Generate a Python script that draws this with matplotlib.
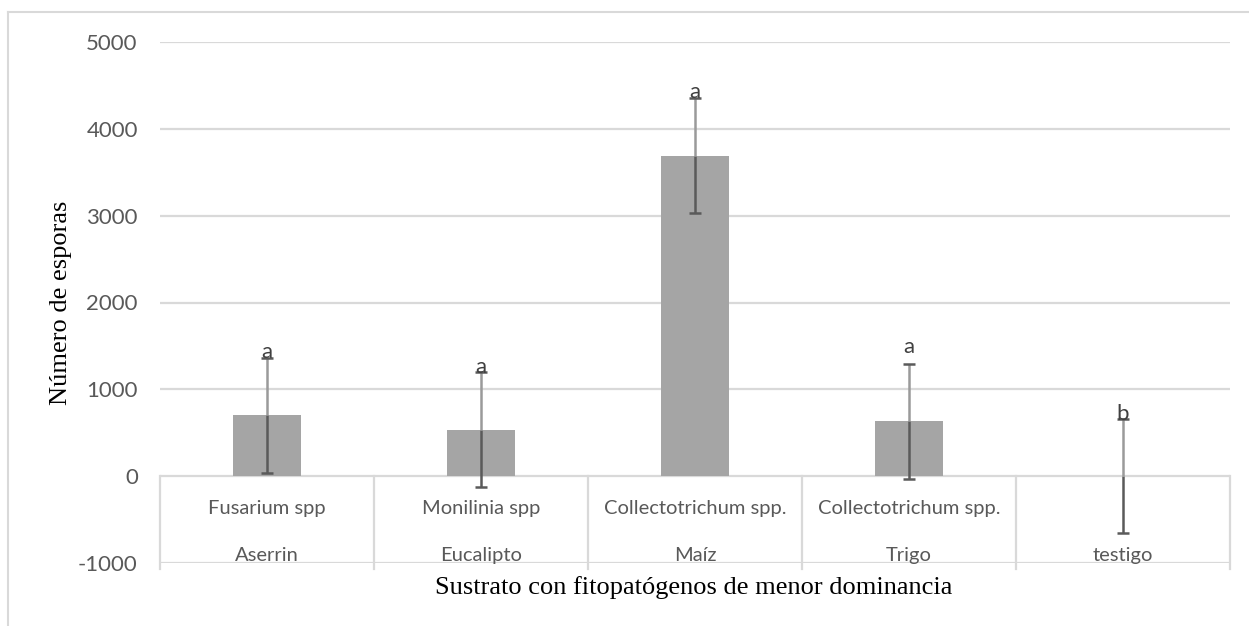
import matplotlib
matplotlib.use("Agg")
import matplotlib.pyplot as plt
import numpy as np
from matplotlib.lines import Line2D

# spore counts per substrate, with error and significance letters
sustratos = ["Aserrin", "Eucalipto", "Maíz", "Trigo", "testigo"]
patogenos = ["Fusarium spp", "Monilinia spp", "Collectotrichum spp.",
             "Collectotrichum spp.", ""]
esporas = [700, 535, 3690, 630, 0]
error = [660, 660, 660, 660, 660]
letras = ["a", "a", "a", "a", "b"]
letra_pad = [70, 60, 70, 200, 60]
yticks = [-1000, 0, 1000, 2000, 3000, 4000, 5000]

GRID = "#d9d9d9"
TXT = "#595959"
sans = ["Lato", "DejaVu Sans"]
serif = ["Liberation Serif", "DejaVu Serif"]

fig = plt.figure(figsize=(12.49, 6.26), dpi=100)
W, H = 1249, 626
ax = fig.add_axes([160 / W, (H - 563) / H, (1230 - 160) / W, (563 - 42) / H])

x = np.arange(len(sustratos))
vals = np.array(esporas, dtype=float)
err = np.array(error, dtype=float)

ax.set_xlim(-0.5, len(sustratos) - 0.5)
ax.set_ylim(-1000, 5000)
ax.set_yticks(yticks)
ax.set_yticklabels([str(t) for t in yticks], family=sans, fontsize=16, color=TXT)
ax.tick_params(axis="y", length=0, pad=16)
ax.set_xticks([])
for s in ax.spines.values():
    s.set_visible(False)

for t in yticks:
    ax.axhline(t, color=GRID, lw=1.6, zorder=0)

ax.bar(x, vals, width=0.315, color="#a5a5a5", zorder=2)

# error bars: dark below the mean, lighter above, dark caps
ax.vlines(x, vals - err, vals, color="#5a5a5a", lw=1.8, zorder=3)
ax.vlines(x, vals, vals + err, color="#9a9a9a", lw=1.8, zorder=3)
ax.plot(x, vals + err, ls="none", marker="_", ms=9, mew=1.8, color="#5a5a5a", zorder=4)
ax.plot(x, vals - err, ls="none", marker="_", ms=9, mew=1.8, color="#5a5a5a", zorder=4)

for xi, top, l, p in zip(x, vals + err, letras, letra_pad):
    ax.text(xi, top + p, l, ha="center", va="center", family=sans,
            fontsize=16, color="#404040", zorder=5)

# category table under the zero line
for b in np.arange(len(sustratos) + 1) - 0.5:
    ax.plot([b, b], [0, -1070], color=GRID, lw=1.6, clip_on=False, zorder=1)
for xi, pat, sus in zip(x, patogenos, sustratos):
    ax.text(xi, -370, pat, ha="center", va="center", family=sans,
            fontsize=14.5, color=TXT)
    ax.text(xi, -910, sus, ha="center", va="center", family=sans,
            fontsize=14.5, color=TXT)

ax.set_ylabel("Número de esporas", family=serif, fontsize=19, labelpad=4)
fig.text(694 / W, (H - 588) / H, "Sustrato con fitopatógenos de menor dominancia",
         ha="center", va="center", family=serif, fontsize=19)

# chart frame
fig.add_artist(Line2D([8 / W, 8 / W], [0, (H - 12) / H], color=GRID, lw=1.5))
fig.add_artist(Line2D([8 / W, 1], [(H - 12) / H, (H - 12) / H], color=GRID, lw=1.5))

fig.savefig("out.png", dpi=100, facecolor="white")
